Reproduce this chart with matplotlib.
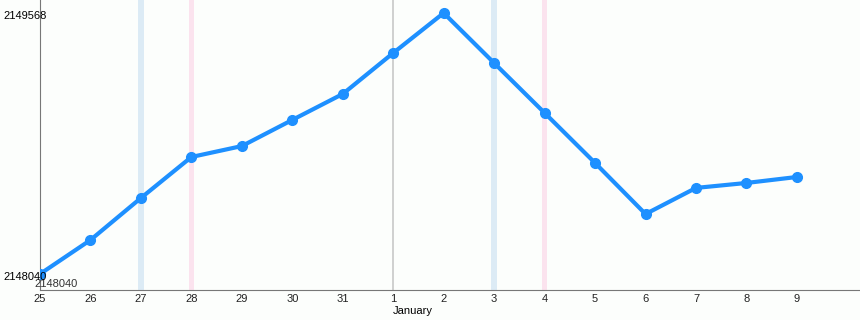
import matplotlib
matplotlib.use("Agg")
import matplotlib.pyplot as plt

plt.rcParams['font.family'] = ['Liberation Sans', 'DejaVu Sans']

day_labels = ['25', '26', '27', '28', '29', '30', '31', '1', '2', '3', '4', '5', '6', '7', '8', '9']
values = [2148040, 2148239, 2148485, 2148725, 2148789, 2148942, 2149094, 2149334,
          2149568, 2149275, 2148983, 2148690, 2148391, 2148544, 2148573, 2148608]
blue_bands = ['27', '3']
pink_bands = ['28', '4']
month_marker = '1'
month_label = 'January'
y_min_label = 2148040
y_max_label = 2149568

x = list(range(len(day_labels)))

fig = plt.figure(figsize=(8.6, 3.2), dpi=100)
fig.patch.set_facecolor('#fcfefc')
ax = fig.add_axes([40/860, 30/320, 820/860, 290/320])
ax.set_facecolor('#fcfefc')

for lab in blue_bands:
    i = day_labels.index(lab)
    ax.axvspan(i - 0.055, i + 0.055, color='#dcebf5', lw=0, zorder=1)
for lab in pink_bands:
    i = day_labels.index(lab)
    ax.axvspan(i - 0.055, i + 0.055, color='#fbe3ee', lw=0, zorder=1)

mi = day_labels.index(month_marker)
ax.axvline(mi, color='#c8c8c8', lw=1.2, zorder=1)

ax.plot(x, values, color='#1e90ff', lw=3, marker='o', ms=7, zorder=3)

span = y_max_label - y_min_label
upp = span / 261.0
ax.set_ylim(y_min_label - 16 * upp, y_max_label + 13 * upp)
ax.set_xlim(0, 16.25)

for s in ['top', 'right']:
    ax.spines[s].set_visible(False)
ax.spines['left'].set_color('#777777')
ax.spines['bottom'].set_color('#777777')

ax.set_xticks(x)
ax.set_xticklabels(day_labels, fontsize=8)
ax.tick_params(axis='x', length=0, pad=3, colors='#222222')
ax.set_yticks([])

# y labels
for v in [y_min_label, y_max_label]:
    ax.annotate(str(v), xy=(0, v), xycoords=('axes fraction', 'data'),
                xytext=(-37, -3), textcoords='offset pixels', ha='left', va='center',
                fontsize=8, color='black', annotation_clip=False, zorder=5)

ax.annotate(str(y_min_label), xy=(0, y_min_label), xytext=(-6, -10), textcoords='offset pixels',
            ha='left', va='center', fontsize=8, color='#333333')

ax.annotate(month_label, xy=(mi + 0.38, 0), xycoords=('data', 'axes fraction'),
            xytext=(0, -21), textcoords='offset pixels', ha='center', va='center',
            fontsize=8, color='black', annotation_clip=False)

fig.savefig('out.png', dpi=100, facecolor=fig.get_facecolor())
